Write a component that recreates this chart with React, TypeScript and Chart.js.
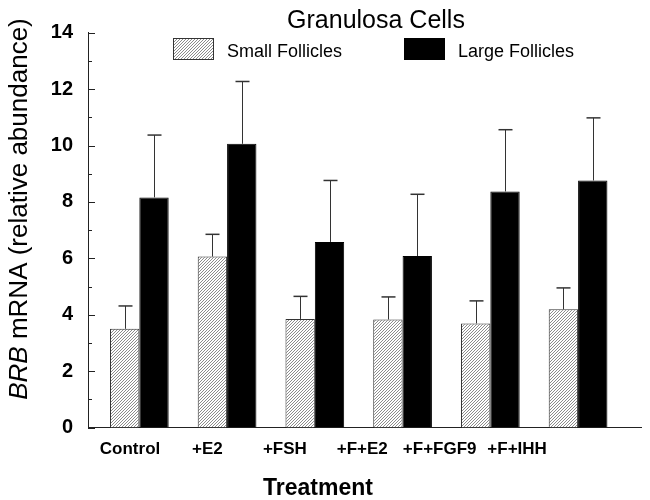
import React, { useEffect, useRef } from "react";
import { Chart, registerables } from "chart.js";

Chart.register(...registerables);

// ---- data ----
const categories = ["Control", "+E2", "+FSH", "+F+E2", "+F+FGF9", "+F+IHH"];
const seriesLabels = ["Small Follicles", "Large Follicles"];
const smallFollicles = [3.5, 6.06, 3.85, 3.83, 3.69, 4.19];
const smallFolliclesErr = [0.81, 0.79, 0.8, 0.8, 0.8, 0.76];
const largeFollicles = [8.16, 10.06, 6.58, 6.08, 8.37, 8.76];
const largeFolliclesErr = [2.21, 2.21, 2.18, 2.19, 2.19, 2.22];
const yTickMin = 0;
const yTickMax = 14;
const yTickStep = 2;
const chartTitle = "Granulosa Cells";
const xTitle = "Treatment";
const yTitleItalic = "BRB";
const yTitleRest = " mRNA (relative abundance)";

const FONT = "'Liberation Sans', Arial, Helvetica, sans-serif";
const errors = [smallFolliclesErr, largeFolliclesErr];

const errorBarPlugin = {
  id: "errorBars",
  afterDatasetsDraw(chart: any) {
    const ctx = chart.ctx;
    const yScale = chart.scales.y;
    chart.data.datasets.forEach((ds: any, d: number) => {
      const meta = chart.getDatasetMeta(d);
      const errs = errors[d];
      meta.data.forEach((el: any, i: number) => {
        const v = ds.data[i].y;
        const top = yScale.getPixelForValue(v + errs[i]);
        const x = Math.round(el.x) + 0.5;
        ctx.save();
        ctx.strokeStyle = "#333";
        ctx.lineWidth = 1;
        ctx.beginPath();
        ctx.moveTo(x, el.y);
        ctx.lineTo(x, top);
        ctx.stroke();
        ctx.lineWidth = 1.5;
        ctx.beginPath();
        ctx.moveTo(x - 7, top);
        ctx.lineTo(x + 7, top);
        ctx.stroke();
        ctx.restore();
      });
    });
  },
};

const innerTicksPlugin = {
  id: "innerTicks",
  afterDraw(chart: any) {
    const ctx = chart.ctx;
    const yScale = chart.scales.y;
    const left = Math.round(chart.chartArea.left);
    ctx.save();
    ctx.strokeStyle = "#222";
    ctx.lineWidth = 1;
    for (let v = yTickMin; v <= yTickMax; v += 1) {
      const y = Math.round(yScale.getPixelForValue(v)) + 0.5;
      const len = v % yTickStep === 0 ? 7 : 4;
      ctx.beginPath();
      ctx.moveTo(left, y);
      ctx.lineTo(left + len, y);
      ctx.stroke();
    }
    ctx.restore();
  },
};

const headerPlugin = {
  id: "header",
  afterDraw(chart: any) {
    const ctx = chart.ctx;
    ctx.save();
    // chart title
    ctx.fillStyle = "#000";
    ctx.font = `normal 25px ${FONT}`;
    ctx.textAlign = "center";
    ctx.textBaseline = "alphabetic";
    ctx.fillText(chartTitle, 376, 28);

    // legend
    const items = [
      { box: 173, text: 227 },
      { box: 404, text: 458 },
    ];
    chart.data.datasets.forEach((ds: any, i: number) => {
      const it = items[i];
      ctx.fillStyle = ds.backgroundColor;
      ctx.fillRect(it.box, 38, 40, 21);
      ctx.strokeStyle = ds.borderColor;
      ctx.lineWidth = 1;
      ctx.strokeRect(it.box + 0.5, 38.5, 40, 21);
      ctx.fillStyle = "#000";
      ctx.font = `normal 18px ${FONT}`;
      ctx.textAlign = "left";
      ctx.fillText(ds.label, it.text, 57);
    });

    // x title
    ctx.font = `bold 23px ${FONT}`;
    ctx.textAlign = "center";
    ctx.fillText(xTitle, 318, 495);

    // y title (rotated, mixed italic)
    ctx.translate(27, 209);
    ctx.rotate(-Math.PI / 2);
    const fItalic = `italic 26px ${FONT}`;
    const fNormal = `normal 26px ${FONT}`;
    ctx.font = fItalic;
    const w1 = ctx.measureText(yTitleItalic).width;
    ctx.font = fNormal;
    const w2 = ctx.measureText(yTitleRest).width;
    const start = -(w1 + w2) / 2;
    ctx.textAlign = "left";
    ctx.font = fItalic;
    ctx.fillText(yTitleItalic, start, 0);
    ctx.font = fNormal;
    ctx.fillText(yTitleRest, start + w1, 0);
    ctx.restore();
  },
};

export default function App() {
  const ref = useRef<HTMLCanvasElement>(null);

  useEffect(() => {
    const canvas = ref.current!;
    const tile = document.createElement("canvas");
    tile.width = 3;
    tile.height = 3;
    const tctx = tile.getContext("2d")!;
    tctx.fillStyle = "#ffffff";
    tctx.fillRect(0, 0, 3, 3);
    tctx.fillStyle = "#8c8c8c";
    // one-pixel diagonal (bottom-left to top-right)
    tctx.fillRect(0, 2, 1, 1);
    tctx.fillRect(1, 1, 1, 1);
    tctx.fillRect(2, 0, 1, 1);
    const hatch = canvas.getContext("2d")!.createPattern(tile, "repeat")!;

    Chart.defaults.font.family = FONT;

    const categoryTicks = (axis: any) => {
      axis.ticks = categories.map((_, i) => ({ value: i }));
    };

    const chart = new Chart(canvas, {
      type: "bar",
      data: {
        datasets: [
          {
            label: seriesLabels[0],
            data: smallFollicles.map((v, i) => ({ x: i, y: v })),
            backgroundColor: hatch as any,
            borderColor: "#333",
            borderWidth: 1,
            categoryPercentage: 0.669,
            barPercentage: 1,
            xAxisID: "x",
          },
          {
            label: seriesLabels[1],
            data: largeFollicles.map((v, i) => ({ x: i, y: v })),
            backgroundColor: "#000",
            borderColor: "#000",
            borderWidth: 1,
            categoryPercentage: 0.669,
            barPercentage: 1,
            xAxisID: "x",
          },
        ],
      } as any,
      options: {
        animation: false,
        responsive: true,
        maintainAspectRatio: false,
        layout: { padding: { top: 32.7, right: 9, left: 0, bottom: 0 } },
        plugins: {
          legend: { display: false },
          title: { display: false },
          tooltip: { enabled: false },
        },
        scales: {
          x: {
            type: "linear",
            display: false,
            min: -0.585,
            max: 5.717,
            offset: false,
            afterBuildTicks: categoryTicks,
          },
          xl: {
            type: "linear",
            position: "bottom",
            min: -0.543,
            max: 6.6,
            offset: false,
            afterBuildTicks: categoryTicks,
            afterFit: (axis: any) => {
              axis.height = 72.5;
            },
            grid: { display: false, drawTicks: false },
            border: { display: true, color: "#222", width: 1 },
            ticks: {
              callback: (v: any) => categories[v] ?? "",
              font: { size: 17, weight: "bold" },
              color: "#000",
              padding: 12,
              maxRotation: 0,
              autoSkip: false,
            },
          },
          y: {
            min: yTickMin,
            max: yTickMax,
            ticks: {
              stepSize: yTickStep,
              font: { size: 20, weight: "bold" },
              color: "#000",
              padding: 15,
            },
            grid: { display: false, drawTicks: false },
            border: { display: true, color: "#222", width: 1 },
            afterFit: (axis: any) => {
              axis.width = 88;
            },
          },
        } as any,
      },
      plugins: [errorBarPlugin, innerTicksPlugin, headerPlugin],
    });

    return () => chart.destroy();
  }, []);

  return (
    <div
      style={{
        position: "fixed",
        left: 0,
        top: 0,
        width: 650,
        height: 500,
        background: "#fff",
      }}
    >
      <canvas ref={ref} />
    </div>
  );
}
